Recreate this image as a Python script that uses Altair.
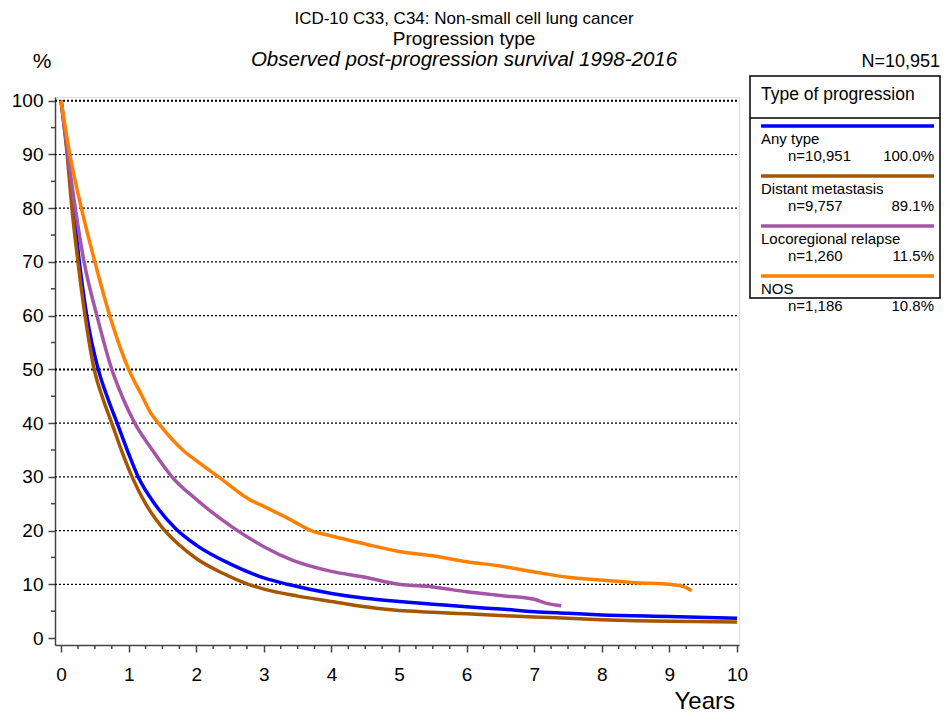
import altair as alt
import pandas as pd

# ---------------- data ----------------
series_names = ["Any type", "Distant metastasis", "Locoregional relapse", "NOS"]
series_colors = ["#0000FF", "#A65500", "#A555A5", "#FF8000"]
n_labels = ["n=10,951", "n=9,757", "n=1,260", "n=1,186"]
pct_labels = ["100.0%", "89.1%", "11.5%", "10.8%"]

years_any = [0, 0.1, 0.18, 0.27, 0.38, 0.55, 0.7, 0.83, 1.0, 1.14, 1.4, 1.7, 2.0, 2.5,
             3.0, 3.35, 4.0, 4.5, 5.0, 5.5, 6.0, 6.5, 7.0, 7.5, 8.0, 9.0, 10.0]
surv_any = [100, 90, 80, 70, 60, 50, 44.3, 40, 34.3, 30, 24.7, 20.3, 17.3, 13.8,
            11.2, 10, 8.3, 7.4, 6.8, 6.3, 5.8, 5.4, 4.9, 4.6, 4.3, 4.0, 3.7]

years_dist = [0, 0.09, 0.16, 0.25, 0.355, 0.49, 0.62, 0.75, 0.9, 1.05, 1.25, 1.5, 1.75, 2.0,
              2.4, 2.77, 3.0, 3.5, 4.0, 4.5, 5.0, 5.5, 6.0, 6.5, 7.0, 7.5, 8.0, 8.5, 9.0, 10.0]
surv_dist = [100, 90, 80, 70, 60, 50, 44.5, 40, 34.7, 30, 25, 20.5, 17.3, 14.8,
             12.0, 10, 9.1, 7.8, 6.8, 5.8, 5.1, 4.8, 4.5, 4.2, 3.9, 3.7, 3.4, 3.2, 3.1, 3.0]

years_loco = [0, 0.1, 0.21, 0.34, 0.53, 0.75, 0.92, 1.09, 1.35, 1.64, 2.0, 2.55, 3.0, 3.42,
              4.0, 4.5, 5.0, 5.5, 6.0, 6.5, 7.0, 7.2, 7.4]
surv_loco = [100, 90, 80, 70, 60, 50, 44.5, 40, 35, 30, 25.8, 20.5, 17, 14.5,
             12.4, 11.3, 10, 9.5, 8.6, 7.9, 7.2, 6.4, 6.0]

years_nos = [0, 0.13, 0.3, 0.5, 0.72, 1.0, 1.2, 1.32, 1.44, 1.8, 2.0, 2.33, 2.8, 3.0, 3.4,
             3.7, 4.0, 4.5, 5.0, 5.5, 6.0, 6.5, 7.0, 7.5, 8.0, 8.5, 9.0, 9.2, 9.33]
surv_nos = [100, 90, 80, 70, 60, 50, 45, 42, 40, 35, 33, 30, 25.7, 24.5, 22,
            20, 19, 17.5, 16.1, 15.3, 14.2, 13.4, 12.3, 11.3, 10.8, 10.3, 10, 9.6, 8.8]

grid_values = [10, 20, 30, 40, 50, 60, 70, 80, 90, 100]
y_tick_values = [0, 10, 20, 30, 40, 50, 60, 70, 80, 90, 100]
y_minor_values = [5, 15, 25, 35, 45, 55, 65, 75, 85, 95]
x_tick_values = [0, 1, 2, 3, 4, 5, 6, 7, 8, 9, 10]
x_minor_values = [i / 4 for i in range(1, 40) if i % 4 != 0]

title_line1 = "ICD-10 C33, C34: Non-small cell lung cancer"
title_line2 = "Progression type"
title_line3 = "Observed post-progression survival 1998-2016"
y_unit = "%"
total_n = "N=10,951"
x_title = "Years"
legend_title = "Type of progression"

# ---------------- tables ----------------
frames = []
for name, ys, ss in [(series_names[0], years_any, surv_any),
                     (series_names[1], years_dist, surv_dist),
                     (series_names[2], years_loco, surv_loco),
                     (series_names[3], years_nos, surv_nos)]:
    frames.append(pd.DataFrame({"series": name, "year": ys, "surv": ss}))
curves = pd.concat(frames, ignore_index=True)

W, H = 684, 548
FONT = "Liberation Sans"
X_DOM = [-0.09, 10.03]
Y_DOM = [-1.3, 100.7]

x_scale = alt.Scale(domain=X_DOM, nice=False, zero=False)
y_scale = alt.Scale(domain=Y_DOM, nice=False, zero=False)
x_axis = alt.Axis(values=x_tick_values, format="d", tickSize=7, labelPadding=13,
                  labelFontSize=19, labelFont=FONT, labelColor="black",
                  domainColor="#444444", tickColor="#444444", domainWidth=1.5,
                  tickWidth=1.5, grid=False, title=None, labelFlush=False)
y_axis = alt.Axis(values=y_tick_values, format="d", tickSize=7, labelPadding=5,
                  labelFontSize=19, labelFont=FONT, labelColor="black",
                  domainColor="#444444", tickColor="#444444", domainWidth=1.5,
                  tickWidth=1.5, grid=False, title=None, labelFlush=False)

grid = alt.Chart(pd.DataFrame({"g": grid_values})).mark_rule(
    color="black", strokeDash=[2, 2]
).encode(
    y=alt.Y("g:Q", scale=y_scale, axis=y_axis),
    x=alt.value(0), x2=alt.value(W),
    strokeWidth=alt.condition("datum.g % 50 == 0", alt.value(2), alt.value(1.2)),
)

y_minor = alt.Chart(pd.DataFrame({"m": y_minor_values})).mark_rule(
    color="#444444", strokeWidth=1.5
).encode(
    y=alt.Y("m:Q", scale=y_scale, axis=y_axis),
    x=alt.value(-4), x2=alt.value(0),
)

x_minor = alt.Chart(pd.DataFrame({"mx": x_minor_values})).mark_rule(
    color="#444444", strokeWidth=1.5
).encode(
    x=alt.X("mx:Q", scale=x_scale, axis=x_axis),
    y=alt.value(H), y2=alt.value(H + 4),
)

lines = alt.Chart(curves).mark_line(strokeWidth=3.5, clip=True, interpolate="monotone").encode(
    x=alt.X("year:Q", scale=x_scale, axis=x_axis),
    y=alt.Y("surv:Q", scale=y_scale, axis=y_axis),
    color=alt.Color("series:N", scale=alt.Scale(domain=series_names, range=series_colors),
                    legend=None),
    order=alt.Order("year:Q"),
)


def text_layer(txt, x, y, size, align="left", baseline="middle", style="normal"):
    return alt.Chart(pd.DataFrame({"t": [txt]})).mark_text(
        align=align, baseline=baseline, fontSize=size, font=FONT,
        fontStyle=style, color="black"
    ).encode(text="t:N", x=alt.value(x), y=alt.value(y))


annotations = [
    text_layer(title_line1, 409, -78, 17, align="center"),
    text_layer(title_line2, 409, -58, 19, align="center"),
    text_layer(title_line3, 409, -37, 20.5, align="center", style="italic"),
    text_layer(y_unit, -13, -35, 21, align="center"),
    text_layer(total_n, 885, -35, 18, align="right"),
    text_layer(x_title, 680, 612, 24, align="right", baseline="alphabetic"),
]

# legend box
LX0, LX1, LY0, LY1 = 695, 885, -21, 201
legend_layers = [
    alt.Chart(pd.DataFrame({"k": [0]})).mark_rect(
        fill="white", stroke="black", strokeWidth=1.5
    ).encode(x=alt.value(LX0), x2=alt.value(LX1), y=alt.value(LY0), y2=alt.value(LY1)),
    alt.Chart(pd.DataFrame({"k": [0]})).mark_rule(color="black", strokeWidth=1.5).encode(
        x=alt.value(LX0), x2=alt.value(LX1), y=alt.value(21)),
    text_layer(legend_title, 706, -2, 17.5),
]
for i, name in enumerate(series_names):
    base = 29 + 50 * i
    legend_layers.append(
        alt.Chart(pd.DataFrame({"k": [0]})).mark_rule(
            color=series_colors[i], strokeWidth=3.5
        ).encode(x=alt.value(706), x2=alt.value(879), y=alt.value(base))
    )
    legend_layers.append(text_layer(name, 706, base + 13, 15))
    legend_layers.append(text_layer(n_labels[i], 733, base + 30, 15))
    legend_layers.append(text_layer(pct_labels[i], 879, base + 30, 15, align="right"))

chart = alt.layer(grid, y_minor, x_minor, lines, *annotations, *legend_layers).properties(
    width=W, height=H,
    autosize=alt.AutoSizeParams(type="none"),
    padding={"left": 47, "top": 89, "right": 203, "bottom": 70},
).configure_view(stroke=None).configure(font=FONT)

chart.save("out.html", embed_options={"renderer": "svg", "actions": False})
